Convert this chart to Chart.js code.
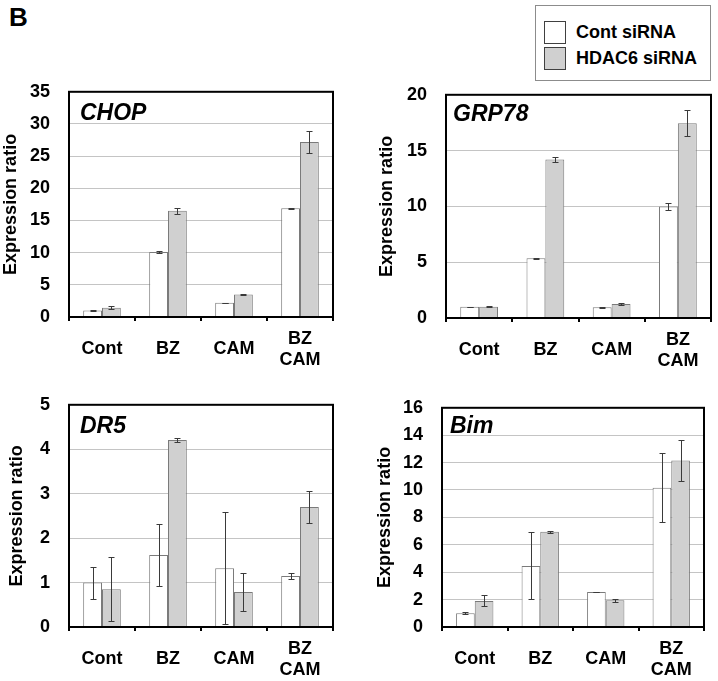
<!DOCTYPE html>
<html>
<head>
<meta charset="utf-8">
<script src="https://cdn.jsdelivr.net/npm/chart.js@4.4.0/dist/chart.umd.min.js"></script>
<style>
  body { margin: 0; background: #fff; font-family: "Liberation Sans", Arial, sans-serif; }
  #wrap { position: relative; width: 718px; height: 681px; overflow: hidden; background: #fff; }
  canvas { position: absolute; }
  #panelLetter { position: absolute; left: 9px; top: 2px; font-size: 26px; font-weight: bold; }
  #legendBox { position: absolute; left: 535px; top: 5px; width: 176px; height: 76px; border: 1px solid #8c8c8c; box-sizing: border-box; }
  .lg-row { position: absolute; left: 8px; height: 24px; display: flex; align-items: center; font-size: 18px; font-weight: bold; white-space: nowrap; }
  .lg-swatch { width: 20px; height: 21px; border: 1.5px solid #404040; margin-right: 10px; }
</style>
</head>
<body>
<div id="wrap">
  <div id="panelLetter">B</div>
  <div id="legendBox"></div>
  <canvas id="chopChart"></canvas>
  <canvas id="grpChart"></canvas>
  <canvas id="dr5Chart"></canvas>
  <canvas id="bimChart"></canvas>
</div>

<script>
// Data
const categories = ["Cont", "BZ", "CAM", ["BZ", "CAM"]];
const seriesNames = ["Cont siRNA", "HDAC6 siRNA"];

const chopCont = [1.0, 10.1, 2.2, 16.9];
const chopContErr = [0.08, 0.2, 0.05, 0.05];
const chopHdac = [1.45, 16.5, 3.5, 27.2];
const chopHdacErr = [0.25, 0.45, 0.15, 1.7];

const grpCont = [1.0, 5.35, 0.97, 10.0];
const grpContErr = [0.03, 0.03, 0.05, 0.3];
const grpHdac = [1.0, 14.2, 1.25, 17.45];
const grpHdacErr = [0.05, 0.2, 0.08, 1.15];

const dr5Cont = [1.0, 1.62, 1.32, 1.15];
const dr5ContErr = [0.36, 0.69, 1.26, 0.07];
const dr5Hdac = [0.85, 4.21, 0.79, 2.7];
const dr5HdacErr = [0.72, 0.04, 0.43, 0.36];

const bimCont = [1.0, 4.46, 2.56, 10.16];
const bimContErr = [0.07, 2.45, 0.03, 2.52];
const bimHdac = [1.9, 6.95, 1.95, 12.16];
const bimHdacErr = [0.4, 0.07, 0.1, 1.48];

// y axis ranges
const chopTicks = { max: 35, step: 5 };
const grpTicks = { max: 20, step: 5 };
const dr5Ticks = { max: 5, step: 1 };
const bimTicks = { max: 16, step: 2 };

const colors = {
  contFill: "#ffffff",
  hdacFill: "#d0d0d0",
  barBorder: "#7a7a7a",
  errBar: "#3a3a3a",
  grid: "#c4c4c4",
};

const fontFamily = "'Liberation Sans', Arial, sans-serif";

// Legend (html)
function buildLegend() {
  const box = document.getElementById("legendBox");
  const fills = [colors.contFill, colors.hdacFill];
  box.innerHTML = seriesNames
    .map(
      (name, i) => `
    <div class="lg-row" style="top:${14 + i * 26}px">
      <div class="lg-swatch" style="background:${fills[i]}"></div>${name}
    </div>`
    )
    .join("");
}

// Error bars drawn from dataset.errors
const errorBarPlugin = {
  id: "errorBars",
  afterDatasetsDraw(chart) {
    const ctx = chart.ctx;
    const yScale = chart.scales.y;
    ctx.save();
    ctx.strokeStyle = colors.errBar;
    ctx.lineWidth = 1;
    chart.data.datasets.forEach((ds, i) => {
      const meta = chart.getDatasetMeta(i);
      meta.data.forEach((bar, j) => {
        const v = ds.data[j];
        const e = ds.errors[j];
        const yTop = Math.round(yScale.getPixelForValue(v + e)) + 0.5;
        const yBot = Math.round(yScale.getPixelForValue(Math.max(v - e, 0))) + 0.5;
        const x = Math.round(bar.x) + 0.5;
        ctx.beginPath();
        ctx.moveTo(x, yTop);
        ctx.lineTo(x, yBot);
        ctx.moveTo(x - 3, yTop);
        ctx.lineTo(x + 3, yTop);
        ctx.moveTo(x - 3, yBot);
        ctx.lineTo(x + 3, yBot);
        ctx.stroke();
      });
    });
    ctx.restore();
  },
};

// Plot frame and gene name
const framePlugin = {
  id: "frame",
  afterDraw(chart, args, opts) {
    const a = chart.chartArea;
    const ctx = chart.ctx;
    ctx.save();
    ctx.strokeStyle = "#000";
    ctx.lineWidth = 2;
    ctx.strokeRect(a.left, a.top, a.right - a.left, a.bottom - a.top);
    ctx.fillStyle = "#000";
    ctx.font = `italic bold 23px ${fontFamily}`;
    ctx.textBaseline = "middle";
    ctx.fillText(opts.gene, a.left + opts.dx, a.top + opts.dy);
    ctx.restore();
  },
};

function makePanel(id, p) {
  const canvas = document.getElementById(id);
  canvas.width = p.w;
  canvas.height = p.h;
  canvas.style.left = p.left + "px";
  canvas.style.top = p.top + "px";

  new Chart(canvas.getContext("2d"), {
    type: "bar",
    data: {
      labels: categories,
      datasets: [
        {
          label: seriesNames[0],
          data: p.cont,
          errors: p.contErr,
          backgroundColor: colors.contFill,
          borderColor: colors.barBorder,
          borderWidth: 1,
        },
        {
          label: seriesNames[1],
          data: p.hdac,
          errors: p.hdacErr,
          backgroundColor: colors.hdacFill,
          borderColor: colors.barBorder,
          borderWidth: 1,
        },
      ],
    },
    options: {
      responsive: false,
      animation: false,
      devicePixelRatio: 1,
      layout: { padding: { top: 0, right: p.padRight, left: 0, bottom: 0 } },
      datasets: { bar: { categoryPercentage: 0.57, barPercentage: 1.0 } },
      plugins: {
        legend: { display: false },
        tooltip: { enabled: false },
        frame: { gene: p.gene, dx: p.geneDx, dy: p.geneDy },
      },
      scales: {
        x: {
          offset: true,
          grid: {
            offset: true,
            drawOnChartArea: false,
            drawTicks: true,
            tickLength: 4,
            color: "#000",
            lineWidth: 2,
          },
          border: { display: false },
          ticks: {
            color: "#000",
            font: { family: fontFamily, size: 18, weight: "bold", lineHeight: 1.15 },
            padding: 18,
            maxRotation: 0,
            autoSkip: false,
            crossAlign: "center",
          },
          afterFit: (s) => {
            s.height = p.xHeight;
          },
        },
        y: {
          min: 0,
          max: p.ticks.max,
          grid: { color: colors.grid, drawTicks: false, lineWidth: 1 },
          border: { display: false },
          ticks: {
            stepSize: p.ticks.step,
            color: "#000",
            padding: 19,
            font: { family: fontFamily, size: 18, weight: "bold" },
          },
          title: {
            display: true,
            text: "Expression ratio",
            color: "#000",
            padding: 0,
            font: { family: fontFamily, size: 18, weight: "bold" },
          },
          afterFit: (s) => {
            s.width = p.yWidth;
          },
        },
      },
    },
    plugins: [errorBarPlugin, framePlugin],
  });
}

buildLegend();

makePanel("chopChart", {
  left: 0, top: 62, w: 345, h: 308, padRight: 12, yWidth: 69, xHeight: 53,
  cont: chopCont, contErr: chopContErr, hdac: chopHdac, hdacErr: chopHdacErr,
  ticks: chopTicks, gene: "CHOP", geneDx: 11, geneDy: 22,
});

makePanel("grpChart", {
  left: 376, top: 65, w: 342, h: 305, padRight: 7, yWidth: 70, xHeight: 52,
  cont: grpCont, contErr: grpContErr, hdac: grpHdac, hdacErr: grpHdacErr,
  ticks: grpTicks, gene: "GRP78", geneDx: 7, geneDy: 20,
});

makePanel("dr5Chart", {
  left: 6, top: 375, w: 339, h: 306, padRight: 12, yWidth: 63, xHeight: 54,
  cont: dr5Cont, contErr: dr5ContErr, hdac: dr5Hdac, hdacErr: dr5HdacErr,
  ticks: dr5Ticks, gene: "DR5", geneDx: 11, geneDy: 22,
});

makePanel("bimChart", {
  left: 374, top: 378, w: 344, h: 303, padRight: 14, yWidth: 68, xHeight: 54,
  cont: bimCont, contErr: bimContErr, hdac: bimHdac, hdacErr: bimHdacErr,
  ticks: bimTicks, gene: "Bim", geneDx: 8, geneDy: 19,
});
</script>
</body>
</html>
